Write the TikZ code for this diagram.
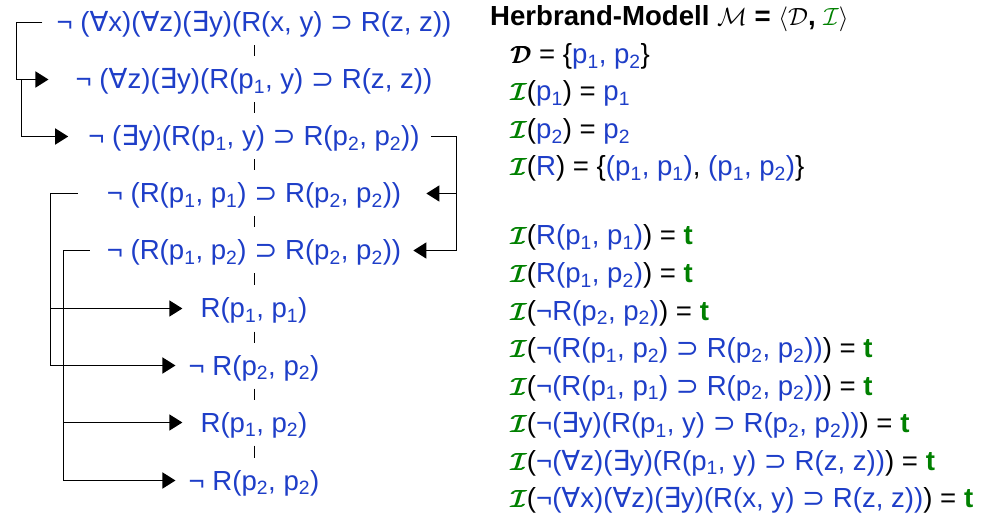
\documentclass[tikz,border=0pt]{standalone}
\usepackage{amsmath}
\usepackage{fontspec}
\setmainfont{Liberation Sans}
\newfontfamily\symfont{DejaVu Sans}
\usepackage{tikz}
\usepackage{xcolor}
\usetikzlibrary{arrows.meta,positioning}
\definecolor{Formula}{HTML}{1E3EC8}
\definecolor{Truth}{HTML}{008000}
\newcommand\pv[1]{p\textsubscript{#1}}
\newcommand\All{{\symfont ∀}}
\newcommand\Exi{{\symfont ∃}}
\newcommand\Imp{{\symfont ⊃}}
\newcommand\fm[1]{{\color{Formula}#1}}
\newcommand\fatcal[1]{\rlap{$\mathcal{#1}$}\kern0.7pt\rlap{$\mathcal{#1}$}\kern0.7pt$\mathcal{#1}$}
\newcommand\Interp{{\color{Truth}\fatcal{I}}}
\newcommand\truth{{\color{Truth}\textbf{t}}}

\begin{document}
\begin{tikzpicture}[
  x=1pt,y=-1pt,
  formula/.style={anchor=base,inner sep=0pt,text height=19pt,text depth=0pt,text=Formula,font=\fontsize{27.6}{31}\selectfont},
  model/.style={anchor=base west,inner sep=0pt,font=\fontsize{27.6}{31}\selectfont},
  conn/.style={draw=black,line width=1.4pt},
  arrow/.style={conn,-{Triangle[length=13pt,width=16pt]}},
  dashlink/.style={draw=black,line width=1pt,shorten <=23pt,shorten >=23pt}
]
\useasboundingbox (0,0) rectangle (994,513);
\node[formula] (f1) at (254,32) {¬ (\All x)(\All z)(\Exi y)(R(x, y) \Imp{} R(z, z))};
\node[formula] (f2) at (254,89) {¬ (\All z)(\Exi y)(R(\pv1, y) \Imp{} R(z, z))};
\node[formula] (f3) at (254,146) {¬ (\Exi y)(R(\pv1, y) \Imp{} R(\pv2, \pv2))};
\node[formula] (f4) at (254,203) {¬ (R(\pv1, \pv1) \Imp{} R(\pv2, \pv2))};
\node[formula] (f5) at (254,260) {¬ (R(\pv1, \pv2) \Imp{} R(\pv2, \pv2))};
\node[formula] (f6) at (254,318) {R(\pv1, \pv1)};
\node[formula] (f7) at (254,375) {¬ R(\pv2, \pv2)};
\node[formula] (f8) at (254,432) {R(\pv1, \pv2)};
\node[formula] (f9) at (254,490) {¬ R(\pv2, \pv2)};
\draw[dashlink] (f1.center) -- (f2.center);
\draw[dashlink] (f2.center) -- (f3.center);
\draw[dashlink] (f3.center) -- (f4.center);
\draw[dashlink] (f4.center) -- (f5.center);
\draw[dashlink] (f5.center) -- (f6.center);
\draw[dashlink] (f6.center) -- (f7.center);
\draw[dashlink] (f7.center) -- (f8.center);
\draw[dashlink] (f8.center) -- (f9.center);
\draw[arrow] ([xshift=-14pt]f1.west) -- ++(-26,0) |- ([xshift=-27pt]f2.west);
\draw[arrow] ([xshift=-54pt]f2.west) |- ([xshift=-20pt]f3.west);
\draw[arrow] ([xshift=11pt]f3.east) -- ++(26,0) |- ([xshift=25pt]f4.east);
\draw[arrow] ([xshift=37pt]f3.east) |- ([xshift=12pt]f5.east);
\draw[arrow] ([xshift=-29pt]f4.west) -- ++(-27,0) |- ([xshift=-18pt]f6.west);
\draw[arrow] ([xshift=-56pt]f4.west) |- ([xshift=-13pt]f7.west);
\draw[arrow] ([xshift=-17pt]f5.west) -- ++(-26,0) |- ([xshift=-18pt]f8.west);
\draw[arrow] ([xshift=-43pt]f5.west) |- ([xshift=-13pt]f9.west);
\node[model] (m0) at (490,26) {\textbf{Herbrand-Modell} $\mathcal{M}$ \textbf{=} $\langle\mathcal{D}$\textbf{,} {\color{Truth}$\mathcal{I}$}$\rangle$};
\node[model] (m1) at (510,63.5) {\fatcal{D} = \{\fm{\pv1, \pv2}\}};
\node[model] (m2) at (510,101) {\Interp(\fm{\pv1}) = \fm{\pv1}};
\node[model] (m3) at (510,138.5) {\Interp(\fm{\pv2}) = \fm{\pv2}};
\node[model] (m4) at (510,176) {\Interp(\fm{R}) = \{\fm{(\pv1, \pv1)}, \fm{(\pv1, \pv2)}\}};
\node[model] (m5) at (510,245) {\Interp(\fm{R(\pv1, \pv1)}) = \truth};
\node[model] (m6) at (510,282.5) {\Interp(\fm{R(\pv1, \pv2)}) = \truth};
\node[model] (m7) at (510,320) {\Interp(\fm{¬R(\pv2, \pv2)}) = \truth};
\node[model] (m8) at (510,357.5) {\Interp(\fm{¬(R(\pv1, \pv2) \Imp{} R(\pv2, \pv2))}) = \truth};
\node[model] (m9) at (510,395) {\Interp(\fm{¬(R(\pv1, \pv1) \Imp{} R(\pv2, \pv2))}) = \truth};
\node[model] (m10) at (510,432.5) {\Interp(\fm{¬(\Exi y)(R(\pv1, y) \Imp{} R(\pv2, \pv2))}) = \truth};
\node[model] (m11) at (510,470) {\Interp(\fm{¬(\All z)(\Exi y)(R(\pv1, y) \Imp{} R(z, z))}) = \truth};
\node[model] (m12) at (510,507.5) {\Interp(\fm{¬(\All x)(\All z)(\Exi y)(R(x, y) \Imp{} R(z, z))}) = \truth};
\end{tikzpicture}
\end{document}
